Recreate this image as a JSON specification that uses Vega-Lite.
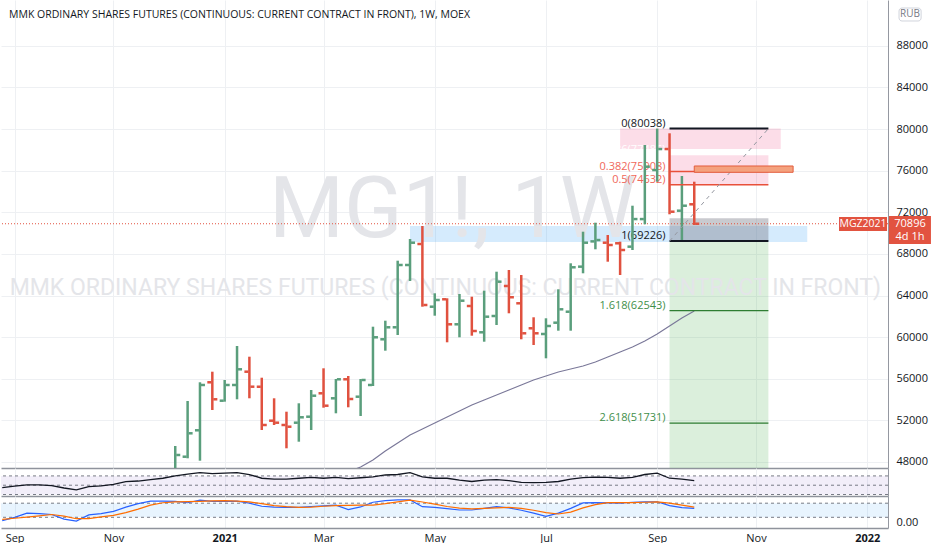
{
  "$schema": "https://vega.github.io/schema/vega-lite/v6.json",
  "padding": 0,
  "background": "#ffffff",
  "spacing": 0,
  "bounds": "flush",
  "config": {
    "view": {"stroke": null},
    "font": "Open Sans",
    "axis": {"labelFont": "Open Sans", "labelFontSize": 11, "labelColor": "#131722", "ticks": false, "gridColor": "#eef0f3", "gridWidth": 1, "domainColor": "#9598a1"}
  },
  "datasets": {
    "bars": [
      {"t": "2020-12-07", "o": 47000, "h": 49538, "l": 46500, "c": 48673},
      {"t": "2020-12-14", "o": 48509, "h": 53862, "l": 48356, "c": 50758},
      {"t": "2020-12-21", "o": 51046, "h": 55660, "l": 48125, "c": 55400},
      {"t": "2020-12-28", "o": 55660, "h": 56678, "l": 52997, "c": 54025},
      {"t": "2021-01-04", "o": 53891, "h": 55880, "l": 53795, "c": 55400},
      {"t": "2021-01-11", "o": 55400, "h": 59148, "l": 54025, "c": 56908},
      {"t": "2021-01-18", "o": 56678, "h": 58119, "l": 54122, "c": 55237},
      {"t": "2021-01-25", "o": 55237, "h": 56101, "l": 51075, "c": 51556},
      {"t": "2021-02-01", "o": 51969, "h": 54122, "l": 51556, "c": 51777},
      {"t": "2021-02-08", "o": 51556, "h": 52834, "l": 49317, "c": 51392},
      {"t": "2021-02-15", "o": 51777, "h": 53641, "l": 49951, "c": 52296},
      {"t": "2021-02-22", "o": 52353, "h": 54919, "l": 51075, "c": 54371},
      {"t": "2021-03-01", "o": 54602, "h": 57004, "l": 53218, "c": 53410},
      {"t": "2021-03-08", "o": 54122, "h": 55976, "l": 52680, "c": 55948, "ma": 46600},
      {"t": "2021-03-15", "o": 55948, "h": 56265, "l": 53257, "c": 54054, "ma": 47039},
      {"t": "2021-03-22", "o": 54275, "h": 55976, "l": 52420, "c": 55880, "ma": 47520},
      {"t": "2021-03-29", "o": 55400, "h": 61002, "l": 55304, "c": 59984, "ma": 48192},
      {"t": "2021-04-05", "o": 59792, "h": 61579, "l": 58696, "c": 60945, "ma": 49057},
      {"t": "2021-04-12", "o": 60945, "h": 67345, "l": 60205, "c": 66932, "ma": 49826},
      {"t": "2021-04-19", "o": 66932, "h": 69430, "l": 65394, "c": 69074, "ma": 50595},
      {"t": "2021-04-26", "o": 68950, "h": 70680, "l": 62924, "c": 63088, "ma": 51171},
      {"t": "2021-05-03", "o": 62924, "h": 64212, "l": 62060, "c": 63568, "ma": 51748},
      {"t": "2021-05-10", "o": 63636, "h": 63731, "l": 59503, "c": 61233, "ma": 52325},
      {"t": "2021-05-17", "o": 61233, "h": 64145, "l": 59984, "c": 63501, "ma": 52901},
      {"t": "2021-05-24", "o": 62992, "h": 63885, "l": 60138, "c": 60589, "ma": 53478},
      {"t": "2021-05-31", "o": 60464, "h": 64462, "l": 59561, "c": 61963, "ma": 53958},
      {"t": "2021-06-07", "o": 62030, "h": 66288, "l": 61166, "c": 65327, "ma": 54439},
      {"t": "2021-06-14", "o": 64914, "h": 66451, "l": 62290, "c": 63828, "ma": 54919},
      {"t": "2021-06-21", "o": 63251, "h": 65971, "l": 59791, "c": 60368, "ma": 55400},
      {"t": "2021-06-28", "o": 60849, "h": 61906, "l": 59244, "c": 60368, "ma": 55880},
      {"t": "2021-07-05", "o": 60301, "h": 61810, "l": 57965, "c": 61070, "ma": 56265},
      {"t": "2021-07-12", "o": 61387, "h": 64597, "l": 60618, "c": 62674, "ma": 56649},
      {"t": "2021-07-19", "o": 62443, "h": 67095, "l": 60618, "c": 66711, "ma": 56937},
      {"t": "2021-07-26", "o": 66772, "h": 70132, "l": 66134, "c": 69074, "ma": 57226},
      {"t": "2021-08-02", "o": 69200, "h": 70997, "l": 68440, "c": 69330, "ma": 57610},
      {"t": "2021-08-09", "o": 69074, "h": 69815, "l": 67249, "c": 68853, "ma": 58091},
      {"t": "2021-08-16", "o": 69017, "h": 69172, "l": 65971, "c": 68373, "ma": 58571},
      {"t": "2021-08-23", "o": 68693, "h": 72630, "l": 68373, "c": 71345, "ma": 59052},
      {"t": "2021-08-30", "o": 71345, "h": 78464, "l": 70843, "c": 76378, "ma": 59628},
      {"t": "2021-09-06", "o": 76058, "h": 80038, "l": 74937, "c": 78076, "ma": 60301},
      {"t": "2021-09-13", "o": 78076, "h": 79588, "l": 71804, "c": 72054, "ma": 61070},
      {"t": "2021-09-20", "o": 72150, "h": 75485, "l": 69226, "c": 72630, "ma": 61838},
      {"t": "2021-09-27", "o": 72765, "h": 74937, "l": 70775, "c": 70896, "ma": 62511}
    ],
    "ind": [
      {"t": "2020-08-31", "rsi": 44.8, "k": 5.7, "d": 11},
      {"t": "2020-09-07", "rsi": 48, "k": 20, "d": 16},
      {"t": "2020-09-14", "rsi": 50.6, "k": 38, "d": 21},
      {"t": "2020-09-21", "rsi": 50.6, "k": 36, "d": 26},
      {"t": "2020-09-28", "rsi": 49, "k": 32, "d": 32},
      {"t": "2020-10-05", "rsi": 44, "k": 12, "d": 25},
      {"t": "2020-10-12", "rsi": 39.8, "k": 4, "d": 14},
      {"t": "2020-10-19", "rsi": 47, "k": 30, "d": 14},
      {"t": "2020-10-26", "rsi": 48.5, "k": 36, "d": 22},
      {"t": "2020-11-02", "rsi": 52, "k": 45, "d": 28},
      {"t": "2020-11-09", "rsi": 57.8, "k": 63, "d": 40},
      {"t": "2020-11-16", "rsi": 59, "k": 78, "d": 55},
      {"t": "2020-11-23", "rsi": 62, "k": 89, "d": 72},
      {"t": "2020-11-30", "rsi": 65, "k": 89, "d": 82},
      {"t": "2020-12-07", "rsi": 70, "k": 88, "d": 86},
      {"t": "2020-12-14", "rsi": 74, "k": 82, "d": 87},
      {"t": "2020-12-21", "rsi": 77, "k": 93, "d": 88},
      {"t": "2020-12-28", "rsi": 75, "k": 88, "d": 90},
      {"t": "2021-01-04", "rsi": 76, "k": 88, "d": 91},
      {"t": "2021-01-11", "rsi": 77, "k": 89, "d": 89},
      {"t": "2021-01-18", "rsi": 73, "k": 80, "d": 86},
      {"t": "2021-01-25", "rsi": 65, "k": 67, "d": 78},
      {"t": "2021-02-01", "rsi": 63, "k": 63, "d": 70},
      {"t": "2021-02-08", "rsi": 63, "k": 62, "d": 65},
      {"t": "2021-02-15", "rsi": 65, "k": 62, "d": 62},
      {"t": "2021-02-22", "rsi": 67, "k": 66, "d": 63},
      {"t": "2021-03-01", "rsi": 65, "k": 69, "d": 67},
      {"t": "2021-03-08", "rsi": 67, "k": 72, "d": 70},
      {"t": "2021-03-15", "rsi": 64, "k": 53, "d": 71},
      {"t": "2021-03-22", "rsi": 66, "k": 64, "d": 72},
      {"t": "2021-03-29", "rsi": 68, "k": 84, "d": 72},
      {"t": "2021-04-05", "rsi": 72, "k": 91, "d": 78},
      {"t": "2021-04-12", "rsi": 73, "k": 94, "d": 86},
      {"t": "2021-04-19", "rsi": 77, "k": 94, "d": 93},
      {"t": "2021-04-26", "rsi": 68, "k": 65, "d": 85},
      {"t": "2021-05-03", "rsi": 65, "k": 62, "d": 76},
      {"t": "2021-05-10", "rsi": 65, "k": 57, "d": 66},
      {"t": "2021-05-17", "rsi": 61, "k": 51, "d": 59},
      {"t": "2021-05-24", "rsi": 58, "k": 51, "d": 56},
      {"t": "2021-05-31", "rsi": 61, "k": 58, "d": 58},
      {"t": "2021-06-07", "rsi": 62, "k": 65, "d": 60},
      {"t": "2021-06-14", "rsi": 60, "k": 60, "d": 62},
      {"t": "2021-06-21", "rsi": 56, "k": 50, "d": 58},
      {"t": "2021-06-28", "rsi": 55.7, "k": 38, "d": 50},
      {"t": "2021-07-05", "rsi": 56, "k": 24, "d": 40},
      {"t": "2021-07-12", "rsi": 58, "k": 38, "d": 34},
      {"t": "2021-07-19", "rsi": 63, "k": 58, "d": 42},
      {"t": "2021-07-26", "rsi": 66.5, "k": 81, "d": 60},
      {"t": "2021-08-02", "rsi": 67.4, "k": 82, "d": 74},
      {"t": "2021-08-09", "rsi": 67, "k": 81, "d": 82},
      {"t": "2021-08-16", "rsi": 65, "k": 80, "d": 82},
      {"t": "2021-08-23", "rsi": 67, "k": 84, "d": 82},
      {"t": "2021-08-30", "rsi": 73, "k": 86, "d": 84},
      {"t": "2021-09-06", "rsi": 76, "k": 86, "d": 86},
      {"t": "2021-09-13", "rsi": 65, "k": 70, "d": 80},
      {"t": "2021-09-20", "rsi": 63, "k": 61, "d": 72},
      {"t": "2021-09-27", "rsi": 60, "k": 58, "d": 63}
    ],
    "zones": [
      {"zone": "support", "t0": "2021-04-19", "t1": "2021-11-30", "lo": 69142, "hi": 70680},
      {"zone": "supply", "t0": "2021-08-16", "t1": "2021-11-15", "lo": 78079, "hi": 80038},
      {"zone": "fib", "t0": "2021-09-13", "t1": "2021-11-08", "lo": 74632, "hi": 77486},
      {"zone": "stop", "t0": "2021-09-13", "t1": "2021-11-08", "lo": 69226, "hi": 71420},
      {"zone": "target", "t0": "2021-09-13", "t1": "2021-11-08", "lo": 40000, "hi": 69226}
    ],
    "fib": [
      {"lvl": "0", "p": 80038, "label": "0(80038)", "kind": "edge", "t0": "2021-09-13", "t1": "2021-11-08"},
      {"lvl": "0.236", "p": 77486, "label": "0.236(77486)", "kind": "soft", "t0": "2021-09-13", "t1": "2021-11-08"},
      {"lvl": "0.382", "p": 75908, "label": "0.382(75908)", "kind": "mid", "t0": "2021-09-13", "t1": "2021-11-08"},
      {"lvl": "0.5", "p": 74632, "label": "0.5(74632)", "kind": "mid", "t0": "2021-09-13", "t1": "2021-11-08"},
      {"lvl": "1", "p": 69226, "label": "1(69226)", "kind": "edge", "t0": "2021-09-13", "t1": "2021-11-08"},
      {"lvl": "1.618", "p": 62543, "label": "1.618(62543)", "kind": "ext", "t0": "2021-09-13", "t1": "2021-11-08"},
      {"lvl": "2.618", "p": 51731, "label": "2.618(51731)", "kind": "ext", "t0": "2021-09-13", "t1": "2021-11-08"}
    ]
  },
  "vconcat": [
    {
      "width": 887,
      "height": 468,
      "layer": [
        {
          "data": {"name": "zones"},
          "mark": {"type": "rect", "clip": true},
          "encoding": {
            "x": {
              "field": "t0", "type": "temporal", "title": null,
              "scale": {"type": "utc", "domain": [{"year": 2020, "month": 8, "date": 30, "hours": 7, "utc": true}, {"year": 2022, "month": 1, "date": 14, "hours": 18, "utc": true}]},
              "axis": {
                "orient": "bottom", "labels": false, "grid": true, "domain": true, "domainColor": "#8f939c", "domainWidth": 1.5,
                "values": [
                  {"year": 2020, "month": 9, "date": 7, "utc": true}, {"year": 2020, "month": 11, "date": 2, "utc": true},
                  {"year": 2021, "month": 1, "date": 4, "utc": true}, {"year": 2021, "month": 3, "date": 1, "utc": true},
                  {"year": 2021, "month": 5, "date": 3, "utc": true}, {"year": 2021, "month": 7, "date": 5, "utc": true},
                  {"year": 2021, "month": 9, "date": 6, "utc": true}, {"year": 2021, "month": 11, "date": 1, "utc": true},
                  {"year": 2022, "month": 1, "date": 3, "utc": true}
                ]
              }
            },
            "x2": {"field": "t1"},
            "y": {
              "field": "lo", "type": "quantitative", "title": null,
              "scale": {"domain": [47423, 92398], "nice": false, "zero": false},
              "axis": {"orient": "right", "values": [48000, 52000, 56000, 60000, 64000, 68000, 72000, 76000, 80000, 84000, 88000], "format": "d", "labelPadding": 8, "grid": true, "domain": true}
            },
            "y2": {"field": "hi"},
            "fill": {
              "field": "zone", "type": "nominal", "legend": null,
              "scale": {"domain": ["support", "supply", "fib", "stop", "target"], "range": ["rgba(33,150,243,0.19)", "rgba(233,30,99,0.15)", "rgba(233,30,99,0.15)", "rgba(120,123,134,0.4)", "rgba(76,175,80,0.2)"]}
            }
          }
        },
        {
          "data": {"values": [{}]},
          "mark": {"type": "text", "text": "MMK ORDINARY SHARES FUTURES (CONTINUOUS: CURRENT CONTRACT IN FRONT)", "font": "Roboto", "fontSize": 23, "color": "#e4e5e9", "align": "center", "baseline": "middle"},
          "encoding": {
            "x": {"datum": {"year": 2021, "month": 5, "date": 9, "utc": true}, "type": "temporal", "title": null},
            "y": {"datum": 64721, "type": "quantitative", "title": null}
          }
        },
        {
          "data": {"values": [{}]},
          "mark": {"type": "text", "text": "MG1!, 1W", "font": "Roboto", "fontSize": 86, "color": "#e4e5e9", "align": "center", "baseline": "middle"},
          "encoding": {
            "x": {"datum": {"year": 2021, "month": 5, "date": 13, "utc": true}, "type": "temporal", "title": null},
            "y": {"datum": 72100, "type": "quantitative", "title": null}
          }
        },
        {
          "data": {"name": "fib"},
          "mark": {"type": "text", "align": "right", "baseline": "alphabetic", "dx": -4, "dy": -2, "fontSize": 11},
          "encoding": {
            "x": {"field": "t0", "type": "temporal", "title": null},
            "y": {"field": "p", "type": "quantitative", "title": null},
            "text": {"field": "label"},
            "color": {"field": "kind", "type": "nominal", "legend": null, "scale": {"domain": ["edge", "mid", "ext", "soft"], "range": ["#131722", "#f0675a", "#3f8f4a", "#ffffff"]}}
          }
        },
        {
          "data": {"values": [{}]},
          "mark": {"type": "rule", "color": "#e25340", "strokeDash": [1, 2], "strokeWidth": 1},
          "encoding": {"y": {"datum": 70896, "type": "quantitative", "title": null}}
        },
        {
          "data": {"name": "bars"},
          "mark": {"type": "rule", "strokeWidth": 2.5, "clip": true},
          "encoding": {
            "x": {"field": "t", "type": "temporal", "title": null},
            "y": {"field": "l", "type": "quantitative", "title": null},
            "y2": {"field": "h"},
            "color": {"condition": {"test": "datum.c >= datum.o", "value": "#5a9e7c"}, "value": "#e0513f"}
          }
        },
        {
          "data": {"name": "bars"},
          "mark": {"type": "tick", "orient": "horizontal", "size": 4, "thickness": 2.5, "xOffset": -3, "opacity": 1, "clip": true},
          "encoding": {
            "x": {"field": "t", "type": "temporal", "title": null},
            "y": {"field": "o", "type": "quantitative", "title": null},
            "color": {"condition": {"test": "datum.c >= datum.o", "value": "#5a9e7c"}, "value": "#e0513f"}
          }
        },
        {
          "data": {"name": "bars"},
          "mark": {"type": "tick", "orient": "horizontal", "size": 4, "thickness": 2.5, "xOffset": 3, "opacity": 1, "clip": true},
          "encoding": {
            "x": {"field": "t", "type": "temporal", "title": null},
            "y": {"field": "c", "type": "quantitative", "title": null},
            "color": {"condition": {"test": "datum.c >= datum.o", "value": "#5a9e7c"}, "value": "#e0513f"}
          }
        },
        {
          "data": {"name": "bars"},
          "mark": {"type": "line", "color": "#7a7899", "strokeWidth": 1.2, "clip": true},
          "encoding": {
            "x": {"field": "t", "type": "temporal", "title": null},
            "y": {"field": "ma", "type": "quantitative", "title": null}
          }
        },
        {
          "data": {"name": "fib"},
          "transform": [{"filter": "datum.kind === 'edge'"}],
          "mark": {"type": "rule", "color": "#131722", "strokeWidth": 2},
          "encoding": {
            "x": {"field": "t0", "type": "temporal", "title": null},
            "x2": {"field": "t1"},
            "y": {"field": "p", "type": "quantitative", "title": null}
          }
        },
        {
          "data": {"name": "fib"},
          "transform": [{"filter": "datum.kind === 'mid'"}],
          "mark": {"type": "rule", "color": "#e8503a", "strokeWidth": 1.5},
          "encoding": {
            "x": {"field": "t0", "type": "temporal", "title": null},
            "x2": {"field": "t1"},
            "y": {"field": "p", "type": "quantitative", "title": null}
          }
        },
        {
          "data": {"name": "fib"},
          "transform": [{"filter": "datum.kind === 'ext'"}],
          "mark": {"type": "rule", "color": "#2e7d32", "strokeWidth": 1.2},
          "encoding": {
            "x": {"field": "t0", "type": "temporal", "title": null},
            "x2": {"field": "t1"},
            "y": {"field": "p", "type": "quantitative", "title": null}
          }
        },
        {
          "data": {"values": [{}]},
          "mark": {"type": "rule", "color": "#9598a1", "strokeDash": [4, 4], "strokeWidth": 1},
          "encoding": {
            "x": {"datum": {"year": 2021, "month": 9, "date": 13, "utc": true}, "type": "temporal", "title": null},
            "x2": {"datum": {"year": 2021, "month": 11, "date": 8, "utc": true}},
            "y": {"datum": 69226, "type": "quantitative", "title": null},
            "y2": {"datum": 80038}
          }
        },
        {
          "data": {"values": [{}]},
          "mark": {"type": "rect", "fill": "#f4a27e", "stroke": "#e35d3e", "strokeWidth": 1},
          "encoding": {
            "x": {"datum": {"year": 2021, "month": 9, "date": 27, "utc": true}, "type": "temporal", "title": null},
            "x2": {"datum": {"year": 2021, "month": 11, "date": 22, "utc": true}},
            "y": {"datum": 75840, "type": "quantitative", "title": null},
            "y2": {"datum": 76446}
          }
        },
        {
          "data": {"values": [{}]},
          "mark": {"type": "text", "text": "MMK ORDINARY SHARES FUTURES (CONTINUOUS: CURRENT CONTRACT IN FRONT), 1W, MOEX", "align": "left", "baseline": "middle", "fontSize": 10.5, "color": "#131722"},
          "encoding": {
            "x": {"datum": {"year": 2020, "month": 9, "date": 3, "hours": 20, "utc": true}, "type": "temporal", "title": null},
            "y": {"datum": 90957, "type": "quantitative", "title": null}
          }
        },
        {
          "data": {"values": [{}]},
          "mark": {"type": "rect", "fill": "#e25340"},
          "encoding": {
            "x": {"datum": {"year": 2021, "month": 12, "date": 18, "utc": true}, "type": "temporal", "title": null},
            "x2": {"datum": {"year": 2022, "month": 1, "date": 14, "hours": 5, "utc": true}},
            "y": {"datum": 70199, "type": "quantitative", "title": null},
            "y2": {"datum": 71545}
          }
        },
        {
          "data": {"values": [{}]},
          "mark": {"type": "text", "text": "MGZ2021", "align": "center", "baseline": "middle", "fontSize": 10.5, "color": "#ffffff"},
          "encoding": {
            "x": {"datum": {"year": 2021, "month": 12, "date": 31, "hours": 14, "utc": true}, "type": "temporal", "title": null},
            "y": {"datum": 70872, "type": "quantitative", "title": null}
          }
        },
        {
          "data": {"values": [{}]},
          "mark": {"type": "rect", "fill": "#e25340"},
          "encoding": {
            "x": {"datum": {"year": 2022, "month": 1, "date": 15, "hours": 7, "utc": true}, "type": "temporal", "title": null},
            "x2": {"datum": {"year": 2022, "month": 2, "date": 8, "hours": 2, "utc": true}},
            "y": {"datum": 68950, "type": "quantitative", "title": null},
            "y2": {"datum": 71641}
          }
        },
        {
          "data": {"values": [{"txt": "70896", "p": 70872}, {"txt": "4d 1h", "p": 69575}]},
          "mark": {"type": "text", "align": "center", "baseline": "middle", "fontSize": 11, "color": "#ffffff"},
          "encoding": {
            "x": {"datum": {"year": 2022, "month": 1, "date": 27, "hours": 5, "utc": true}, "type": "temporal", "title": null},
            "y": {"field": "p", "type": "quantitative", "title": null},
            "text": {"field": "txt"}
          }
        },
        {
          "data": {"values": [{}]},
          "mark": {"type": "rect", "fill": "#ffffff", "stroke": "#d1d4dc", "strokeWidth": 1, "cornerRadius": 3},
          "encoding": {
            "x": {"datum": {"year": 2022, "month": 1, "date": 21, "utc": true}, "type": "temporal", "title": null},
            "x2": {"datum": {"year": 2022, "month": 2, "date": 2, "hours": 12, "utc": true}},
            "y": {"datum": 90380, "type": "quantitative", "title": null},
            "y2": {"datum": 91629}
          }
        },
        {
          "data": {"values": [{}]},
          "mark": {"type": "text", "text": "RUB", "align": "center", "baseline": "middle", "fontSize": 10, "color": "#787b86"},
          "encoding": {
            "x": {"datum": {"year": 2022, "month": 1, "date": 27, "hours": 5, "utc": true}, "type": "temporal", "title": null},
            "y": {"datum": 91005, "type": "quantitative", "title": null}
          }
        }
      ]
    },
    {
      "width": 887,
      "height": 28,
      "layer": [
        {
          "data": {"values": [{}]},
          "mark": {"type": "rect", "color": "#7e57c2", "opacity": 0.1},
          "encoding": {
            "x": {"value": 0},
            "x2": {"value": "width"},
            "y": {"datum": 30, "type": "quantitative", "title": null, "scale": {"domain": [26.8, 87], "nice": false, "zero": false}, "axis": {"orient": "right", "labels": false, "grid": false, "domain": true}},
            "y2": {"datum": 70}
          }
        },
        {
          "data": {"values": [{"lv": 30}, {"lv": 50}, {"lv": 70}]},
          "mark": {"type": "rule", "color": "#787b86", "strokeDash": [3, 3], "strokeWidth": 1},
          "encoding": {"y": {"field": "lv", "type": "quantitative", "title": null}}
        },
        {
          "data": {"name": "ind"},
          "mark": {"type": "line", "color": "#131722", "strokeWidth": 1.3, "clip": true},
          "encoding": {
            "x": {
              "field": "t", "type": "temporal", "title": null,
              "scale": {"type": "utc", "domain": [{"year": 2020, "month": 8, "date": 30, "hours": 7, "utc": true}, {"year": 2022, "month": 1, "date": 14, "hours": 18, "utc": true}]},
              "axis": {
                "orient": "bottom", "labels": false, "grid": true, "domain": true, "domainColor": "#8f939c", "domainWidth": 1.5,
                "values": [
                  {"year": 2020, "month": 9, "date": 7, "utc": true}, {"year": 2020, "month": 11, "date": 2, "utc": true},
                  {"year": 2021, "month": 1, "date": 4, "utc": true}, {"year": 2021, "month": 3, "date": 1, "utc": true},
                  {"year": 2021, "month": 5, "date": 3, "utc": true}, {"year": 2021, "month": 7, "date": 5, "utc": true},
                  {"year": 2021, "month": 9, "date": 6, "utc": true}, {"year": 2021, "month": 11, "date": 1, "utc": true},
                  {"year": 2022, "month": 1, "date": 3, "utc": true}
                ]
              }
            },
            "y": {"field": "rsi", "type": "quantitative", "title": null}
          }
        }
      ]
    },
    {
      "width": 887,
      "height": 32,
      "layer": [
        {
          "data": {"values": [{}]},
          "mark": {"type": "rect", "color": "#2196f3", "opacity": 0.1},
          "encoding": {
            "x": {"value": 0},
            "x2": {"value": "width"},
            "y": {"datum": 20, "type": "quantitative", "title": null, "scale": {"domain": [-25.5, 110.6], "nice": false, "zero": false}, "axis": {"orient": "right", "values": [0], "format": ".2f", "labelPadding": 8, "grid": false, "domain": true}},
            "y2": {"datum": 80}
          }
        },
        {
          "data": {"values": [{"lv": 20}, {"lv": 80}]},
          "mark": {"type": "rule", "color": "#787b86", "strokeDash": [3, 3], "strokeWidth": 1},
          "encoding": {"y": {"field": "lv", "type": "quantitative", "title": null}}
        },
        {
          "data": {"name": "ind"},
          "mark": {"type": "line", "color": "#2962ff", "strokeWidth": 1.2, "clip": true},
          "encoding": {
            "x": {
              "field": "t", "type": "temporal", "title": null,
              "scale": {"type": "utc", "domain": [{"year": 2020, "month": 8, "date": 30, "hours": 7, "utc": true}, {"year": 2022, "month": 1, "date": 14, "hours": 18, "utc": true}]},
              "axis": {
                "orient": "bottom", "grid": true, "domain": true, "domainColor": "#8f939c", "domainWidth": 1.5,
                "labelPadding": 4, "labelFlush": false, "labelOverlap": false, "labelAlign": "center",
                "labelExpr": "utcmonth(datum.value) === 0 ? utcFormat(datum.value, '%Y') : utcFormat(datum.value, '%b')",
                "labelFontWeight": {"condition": {"test": "utcmonth(datum.value) === 0", "value": "bold"}, "value": "normal"},
                "values": [
                  {"year": 2020, "month": 9, "date": 7, "utc": true}, {"year": 2020, "month": 11, "date": 2, "utc": true},
                  {"year": 2021, "month": 1, "date": 4, "utc": true}, {"year": 2021, "month": 3, "date": 1, "utc": true},
                  {"year": 2021, "month": 5, "date": 3, "utc": true}, {"year": 2021, "month": 7, "date": 5, "utc": true},
                  {"year": 2021, "month": 9, "date": 6, "utc": true}, {"year": 2021, "month": 11, "date": 1, "utc": true},
                  {"year": 2022, "month": 1, "date": 3, "utc": true}
                ]
              }
            },
            "y": {"field": "k", "type": "quantitative", "title": null}
          }
        },
        {
          "data": {"name": "ind"},
          "mark": {"type": "line", "color": "#ff6d00", "strokeWidth": 1.2, "clip": true},
          "encoding": {
            "x": {"field": "t", "type": "temporal", "title": null},
            "y": {"field": "d", "type": "quantitative", "title": null}
          }
        }
      ]
    }
  ]
}
